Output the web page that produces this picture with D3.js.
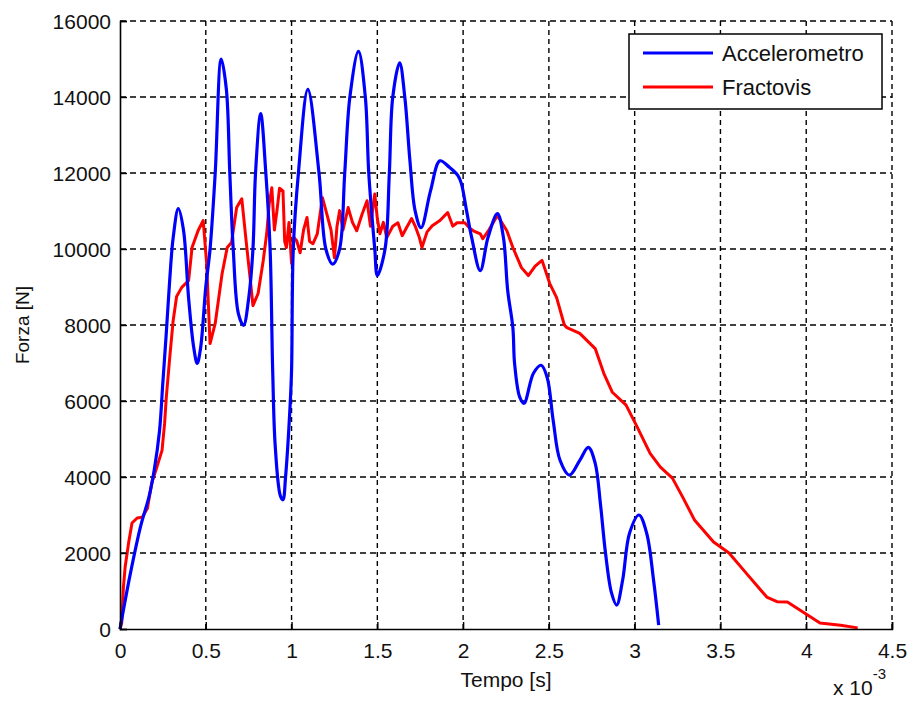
<!DOCTYPE html>
<html>
<head>
<meta charset="utf-8">
<script src="https://d3js.org/d3.v7.min.js"></script>
<style>
  body { margin:0; background:#fff; overflow:hidden; }
  svg { display:block; }
  text { font-family: Arial, "Liberation Sans", sans-serif; fill:#111; }
</style>
</head>
<body>
<script>
// time in ms (axis shows x 10^-3 s), force in N
const accelT = [0,0.02,0.06,0.12,0.17,0.2,0.23,0.25,0.27,0.29,0.31,0.34,0.37,0.4,0.43,0.45,0.47,0.5,0.525,0.555,0.59,0.62,0.64,0.66,0.69,0.72,0.75,0.775,0.79,0.82,0.85,0.875,0.89,0.905,0.935,0.95,0.965,0.99,1.0,1.01,1.04,1.095,1.16,1.2,1.24,1.28,1.31,1.34,1.39,1.43,1.45,1.485,1.5,1.545,1.57,1.59,1.63,1.66,1.69,1.72,1.755,1.81,1.865,1.92,1.97,1.99,2.02,2.05,2.1,2.145,2.2,2.235,2.26,2.29,2.3,2.33,2.355,2.41,2.455,2.49,2.525,2.565,2.62,2.68,2.73,2.77,2.8,2.83,2.865,2.895,2.93,2.97,3.025,3.07,3.11,3.14];
const accelF = [0,500,1450,2700,3500,4200,5200,6500,7800,9200,10300,11060,10500,8700,7400,6990,7400,9000,10000,12000,15000,14200,12000,10000,8300,7990,8700,10000,12000,13560,12000,10000,6800,4800,3500,3400,4000,5750,6800,10000,12000,14200,12000,10000,9600,10000,12000,14000,15200,14000,12000,10000,9300,10000,12000,14000,14900,14000,12320,11010,10560,11530,12320,12150,11930,11720,11010,10300,9430,10300,10930,10300,8900,7930,6990,6100,5940,6730,6940,6620,5490,4440,4050,4440,4780,4360,3310,2000,950,630,1290,2520,3000,2520,1290,100];

const fractT = [0,0.01,0.02,0.03,0.05,0.07,0.1,0.13,0.16,0.185,0.215,0.245,0.26,0.27,0.29,0.31,0.33,0.36,0.4,0.42,0.455,0.485,0.505,0.525,0.555,0.595,0.625,0.65,0.68,0.71,0.735,0.76,0.775,0.805,0.835,0.855,0.87,0.885,0.9,0.915,0.93,0.95,0.96,0.97,0.985,1.0,1.015,1.03,1.05,1.07,1.09,1.105,1.125,1.15,1.18,1.205,1.23,1.25,1.265,1.28,1.3,1.33,1.355,1.38,1.41,1.44,1.46,1.485,1.5,1.515,1.535,1.555,1.59,1.62,1.645,1.67,1.7,1.72,1.745,1.76,1.79,1.82,1.865,1.91,1.94,1.965,2.01,2.04,2.06,2.1,2.115,2.15,2.2,2.255,2.29,2.34,2.38,2.42,2.46,2.505,2.545,2.59,2.605,2.68,2.77,2.82,2.87,2.95,3.01,3.09,3.15,3.22,3.28,3.35,3.46,3.55,3.65,3.77,3.83,3.89,3.99,4.08,4.2,4.3];
const fractF = [0,160,1100,1630,2260,2790,2920,2940,3180,3840,4260,4700,5410,6100,7150,8120,8750,8990,9170,10040,10480,10750,9620,7510,8040,9350,10040,10170,11090,11320,10220,9170,8510,8830,9700,10400,11200,11610,10500,11010,11600,11530,10200,10040,10700,9620,10300,10220,9900,10500,10830,10200,10140,10400,11350,10930,10500,9770,10600,11010,10500,11090,10700,10480,10900,11270,10600,11450,10800,10400,10700,10300,10600,10690,10350,10560,10800,10610,10300,10040,10450,10610,10750,10960,10600,10690,10690,10540,10480,10400,10270,10500,10880,10480,10040,9510,9300,9550,9700,9090,8720,8000,7930,7780,7380,6730,6230,5890,5360,4620,4260,3970,3470,2860,2290,2000,1470,840,720,710,420,160,100,30];

const xTicks = [0,0.5,1,1.5,2,2.5,3,3.5,4,4.5];
const yTicks = [0,2000,4000,6000,8000,10000,12000,14000,16000];
const seriesNames = ["Accelerometro","Fractovis"];
const seriesColors = ["#0000ff","#ff0000"];

const width = 907, height = 701;
const margin = {top: 21, right: 15, bottom: 72, left: 120};
const innerWidth = width - margin.left - margin.right;
const innerHeight = height - margin.top - margin.bottom;

const svg = d3.select("body").append("svg")
  .attr("width", width).attr("height", height);

const g = svg.append("g").attr("transform", `translate(${margin.left},${margin.top})`);

const x = d3.scaleLinear().domain([0, 4.5]).range([0, innerWidth]);
const y = d3.scaleLinear().domain([0, 16000]).range([innerHeight, 0]);

// grid
g.append("g").selectAll("line").data(xTicks.slice(1)).join("line")
  .attr("x1", d => x(d)).attr("x2", d => x(d))
  .attr("y1", 0).attr("y2", innerHeight)
  .attr("stroke", "#000").attr("stroke-width", 1.4).attr("stroke-dasharray", "5,4");
g.append("g").selectAll("line").data(yTicks.slice(1)).join("line")
  .attr("x1", 0).attr("x2", innerWidth)
  .attr("y1", d => y(d)).attr("y2", d => y(d))
  .attr("stroke", "#000").attr("stroke-width", 1.4).attr("stroke-dasharray", "6,4");

// series
const accel = accelT.map((t, i) => [t, accelF[i]]);
const fract = fractT.map((t, i) => [t, fractF[i]]);

g.append("path").datum(fract)
  .attr("fill", "none").attr("stroke", seriesColors[1]).attr("stroke-width", 3)
  .attr("stroke-linejoin", "round")
  .attr("d", d3.line().x(d => x(d[0])).y(d => y(d[1])));

g.append("path").datum(accel)
  .attr("fill", "none").attr("stroke", seriesColors[0]).attr("stroke-width", 3.2)
  .attr("stroke-linejoin", "round")
  .attr("d", d3.line().curve(d3.curveCatmullRom.alpha(0.5)).x(d => x(d[0])).y(d => y(d[1])));

// axes
const xAxis = d3.axisBottom(x).tickValues(xTicks).tickSize(-7).tickPadding(14)
  .tickFormat(d => String(d));
const yAxis = d3.axisLeft(y).tickValues(yTicks).tickSize(-7).tickPadding(9)
  .tickFormat(d3.format("d"));

const gx = g.append("g").attr("transform", `translate(0,${innerHeight})`).call(xAxis);
const gy = g.append("g").call(yAxis);
[gx, gy].forEach(a => {
  a.select(".domain").attr("stroke", "#000").attr("stroke-width", 1.6);
  a.selectAll(".tick line").attr("stroke", "#000").attr("stroke-width", 1.4);
  a.selectAll(".tick text").attr("font-size", 21).attr("font-family", "Arial, 'Liberation Sans', sans-serif").attr("fill", "#111");
});
gy.selectAll(".tick text").attr("dy", "0.36em");

// labels
svg.append("text")
  .attr("x", margin.left + innerWidth / 2).attr("y", 687)
  .attr("text-anchor", "middle").attr("font-size", 21)
  .text("Tempo [s]");

svg.append("text")
  .attr("transform", `translate(29,${margin.top + innerHeight / 2}) rotate(-90)`)
  .attr("text-anchor", "middle").attr("font-size", 19)
  .text("Forza [N]");

const exp = svg.append("text").attr("x", 833).attr("y", 695).attr("font-size", 21);
exp.append("tspan").text("x 10");
exp.append("tspan").attr("dy", -16).attr("font-size", 15).text("-3");

// legend
const legend = svg.append("g").attr("transform", "translate(629,34)");
legend.append("rect")
  .attr("width", 253).attr("height", 75)
  .attr("fill", "#fff").attr("stroke", "#000").attr("stroke-width", 1.5);
seriesNames.forEach((name, i) => {
  const ly = 19 + i * 34;
  legend.append("line")
    .attr("x1", 14).attr("x2", 84).attr("y1", ly).attr("y2", ly)
    .attr("stroke", seriesColors[i]).attr("stroke-width", 3);
  legend.append("text")
    .attr("x", 93).attr("y", ly + 8).attr("font-size", 22)
    .text(name);
});
</script>
</body>
</html>
